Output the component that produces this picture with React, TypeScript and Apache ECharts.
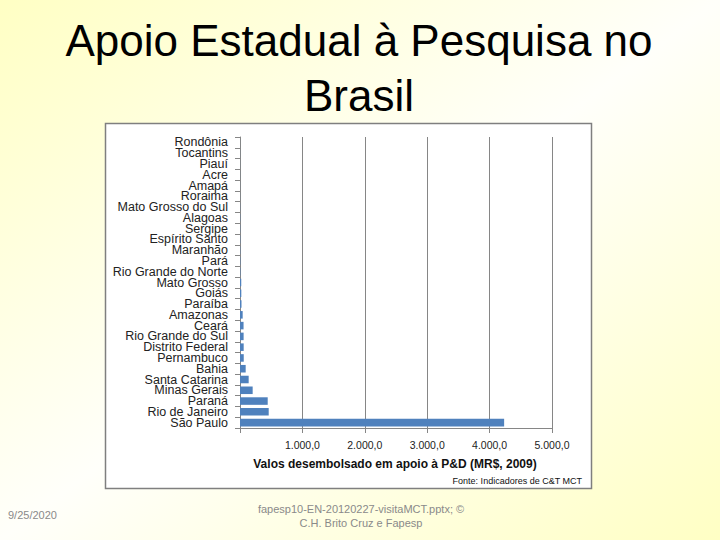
import React, { useEffect, useRef } from "react";
import * as echarts from "echarts";

const states = [
  "São Paulo", "Rio de Janeiro", "Paraná", "Minas Gerais", "Santa Catarina",
  "Bahia", "Pernambuco", "Distrito Federal", "Rio Grande do Sul", "Ceará",
  "Amazonas", "Paraíba", "Goiás", "Mato Grosso", "Rio Grande do Norte",
  "Pará", "Maranhão", "Espírito Santo", "Sergipe", "Alagoas",
  "Mato Grosso do Sul", "Roraima", "Amapá", "Acre", "Piauí", "Tocantins", "Rondônia",
];
const values = [
  4233, 460, 444, 203, 139,
  91, 60, 59, 58, 57,
  43, 24, 21, 20, 6,
  5, 4, 4, 3, 3,
  2, 1, 1, 1, 1, 1, 0.5,
];
const xTicks = [0, 1000, 2000, 3000, 4000, 5000];

const titleLines = ["Apoio Estadual à Pesquisa no", "Brasil"];
const axisTitle = "Valos desembolsado em apoio à P&D (MR$, 2009)";
const sourceText = "Fonte: Indicadores de C&T MCT";
const footerDate = "9/25/2020";
const footerLines = ["fapesp10-EN-20120227-visitaMCT.pptx; ©", "C.H. Brito Cruz e Fapesp"];

function fmt(v: number): string {
  if (v === 0) return "";
  const s = Math.round(v).toString().replace(/\B(?=(\d{3})+(?!\d))/g, ".");
  return s + ",0";
}

const FONT = "'Liberation Sans', Arial, sans-serif";

export default function App() {
  const ref = useRef<HTMLDivElement>(null);
  useEffect(() => {
    document.body.style.margin = "0";
    if (!ref.current) return;
    const chart = echarts.init(ref.current, null, { renderer: "svg" });
    chart.setOption({
      animation: false,
      grid: { left: 240, right: 168, top: 137, bottom: 112, containLabel: false },
      xAxis: {
        type: "value",
        min: xTicks[0],
        max: xTicks[xTicks.length - 1],
        interval: 1000,
        axisLine: { show: true, lineStyle: { color: "#868686", width: 1 } },
        axisTick: { show: true, length: 5, lineStyle: { color: "#868686" } },
        splitLine: { show: true, lineStyle: { color: "#868686", width: 1 } },
        axisLabel: {
          formatter: (v: number) => fmt(v),
          color: "#222",
          fontFamily: FONT,
          fontSize: 10.5,
          margin: 11,
        },
      },
      yAxis: {
        type: "category",
        data: states,
        axisLine: { show: true, lineStyle: { color: "#868686", width: 1 } },
        axisTick: { show: true, length: 5, lineStyle: { color: "#868686" } },
        splitLine: { show: false },
        axisLabel: {
          color: "#222",
          fontFamily: FONT,
          fontSize: 12.5,
          margin: 12,
          interval: 0,
        },
      },
      series: [
        {
          type: "bar",
          data: values,
          barCategoryGap: "30%",
          itemStyle: { color: "#4F81BD" },
        },
      ],
      graphic: [
        {
          type: "rect",
          z: -10,
          silent: true,
          shape: { x: 105.5, y: 123.5, width: 486, height: 365 },
          style: { fill: "#ffffff", stroke: "#7f7f7f", lineWidth: 1.5 },
        },
        {
          type: "text",
          x: 359,
          y: 40,
          style: {
            text: titleLines[0],
            font: `44px ${FONT}`,
            fill: "#000",
            align: "center",
            verticalAlign: "middle",
          },
        },
        {
          type: "text",
          x: 359,
          y: 95,
          style: {
            text: titleLines[1],
            font: `44px ${FONT}`,
            fill: "#000",
            align: "center",
            verticalAlign: "middle",
          },
        },
        {
          type: "text",
          x: 395,
          y: 464,
          style: {
            text: axisTitle,
            font: `bold 12px ${FONT}`,
            fill: "#111",
            align: "center",
            verticalAlign: "middle",
          },
        },
        {
          type: "text",
          x: 582,
          y: 481,
          style: {
            text: sourceText,
            font: `9px ${FONT}`,
            fill: "#111",
            align: "right",
            verticalAlign: "middle",
          },
        },
        {
          type: "text",
          x: 8,
          y: 515,
          style: {
            text: footerDate,
            font: `11px ${FONT}`,
            fill: "#8a8a8a",
            align: "left",
            verticalAlign: "middle",
          },
        },
        {
          type: "text",
          x: 361,
          y: 509,
          style: {
            text: footerLines[0],
            font: `11px ${FONT}`,
            fill: "#8a8a8a",
            align: "center",
            verticalAlign: "middle",
          },
        },
        {
          type: "text",
          x: 361,
          y: 523,
          style: {
            text: footerLines[1],
            font: `11px ${FONT}`,
            fill: "#8a8a8a",
            align: "center",
            verticalAlign: "middle",
          },
        },
      ],
    });
    return () => chart.dispose();
  }, []);
  return (
    <div
      style={{
        position: "absolute",
        left: 0,
        top: 0,
        width: 720,
        height: 540,
        background: "linear-gradient(to bottom right, #FFFFC4 0%, #FFFFFA 50%, #FFFFC4 100%)",
      }}
    >
      <div ref={ref} style={{ width: 720, height: 540 }} />
    </div>
  );
}
